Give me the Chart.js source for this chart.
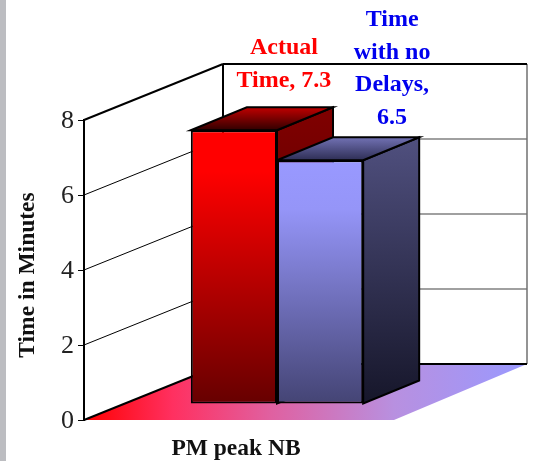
<!DOCTYPE html>
<html>
<head>
<meta charset="utf-8">
<title>Time in Minutes</title>
<style>
  html, body { margin: 0; padding: 0; background: #fff; }
  canvas { display: block; }
</style>
<script src="https://cdn.jsdelivr.net/npm/chart.js@4/dist/chart.umd.min.js"></script>
</head>
<body>
<canvas id="chart" width="534" height="461"></canvas>
<script>
const categories = ["PM peak NB"];
const actualTime = [7.3];
const noDelayTime = [6.5];
const actualLabel = ["Actual", "Time, 7.3"];
const noDelayLabel = ["Time", "with no", "Delays,", "6.5"];
const yAxisTitle = "Time in Minutes";

const SERIF = "'Liberation Serif', 'Times New Roman', serif";

// depth of the room and of the bars, in pixels
const wallDx = 139, wallDy = -56;
const barShiftX = 41, barShiftY = -16;
const depthX = 56, depthY = -23;

function vertical(ctx, y0, y1, stops) {
  const g = ctx.createLinearGradient(0, y0, 0, y1);
  stops.forEach((s) => g.addColorStop(s[0], s[1]));
  return g;
}

function poly(ctx, pts, fill, stroke, lw) {
  ctx.beginPath();
  pts.forEach((p, i) => (i ? ctx.lineTo(p[0], p[1]) : ctx.moveTo(p[0], p[1])));
  ctx.closePath();
  if (fill) {
    ctx.fillStyle = fill;
    ctx.fill();
  }
  if (stroke) {
    ctx.strokeStyle = stroke;
    ctx.lineWidth = lw || 2;
    ctx.stroke();
  }
}

function line(ctx, x0, y0, x1, y1, color, lw) {
  ctx.beginPath();
  ctx.moveTo(x0, y0);
  ctx.lineTo(x1, y1);
  ctx.strokeStyle = color;
  ctx.lineWidth = lw;
  ctx.stroke();
}

function frontFill(stops) {
  return (c) => {
    const area = c.chart.chartArea;
    if (!area) return stops[0][1];
    const top = c.chart.scales.y.getPixelForValue(c.raw);
    return vertical(c.chart.ctx, top, area.bottom, stops);
  };
}

// side and top face of one bar, behind the front the library draws
function extrude(ctx, bar, sideStops, topStops) {
  const l = bar.x - bar.width / 2 + barShiftX;
  const r = bar.x + bar.width / 2 + barShiftX;
  const t = bar.y + barShiftY;
  const b = bar.base + barShiftY;
  poly(ctx, [[r, t], [r + depthX, t + depthY], [r + depthX, b + depthY], [r, b]],
    vertical(ctx, t + depthY, b, sideStops), "#000", 2);
  poly(ctx, [[l, t], [l + depthX, t + depthY], [r + depthX, t + depthY], [r, t]],
    vertical(ctx, t + depthY, t, topStops), "#000", 2);
}

const room = {
  id: "room",
  beforeDraw(chart) {
    const ctx = chart.ctx;
    ctx.save();
    ctx.fillStyle = "#fff";
    ctx.fillRect(0, 0, chart.width, chart.height);
    ctx.fillStyle = "#bcbdc1";
    ctx.fillRect(0, 0, 6, chart.height);
    ctx.restore();
  },
  beforeDatasetsDraw(chart) {
    const ctx = chart.ctx;
    const area = chart.chartArea;
    const y = chart.scales.y;
    const backL = area.left + wallDx;
    const backR = area.right + wallDx;
    ctx.save();

    // floor
    const floor = ctx.createLinearGradient(area.left, 0, backR, 0);
    floor.addColorStop(0, "#ff0000");
    floor.addColorStop(0.2, "#ff3060");
    floor.addColorStop(0.42, "#e060a0");
    floor.addColorStop(0.7, "#b890e0");
    floor.addColorStop(1, "#9999ff");
    poly(ctx, [[area.left, area.bottom], [backL, area.bottom + wallDy],
      [backR, area.bottom + wallDy], [area.right + 6, area.bottom]], floor);

    // grid lines on both walls
    y.ticks.forEach((t) => {
      if (t.value === y.min || t.value === y.max) return;
      const py = y.getPixelForValue(t.value);
      line(ctx, area.left, py, backL, py + wallDy, "#000", 1);
      line(ctx, backL, py + wallDy, backR, py + wallDy, "#808080", 1.5);
    });

    // room edges
    line(ctx, backR, area.top + wallDy, backR, area.bottom + wallDy, "#707070", 1.5);
    line(ctx, backL, area.top + wallDy, backL, area.bottom + wallDy, "#000", 2);
    line(ctx, area.left, area.top, backL, area.top + wallDy, "#000", 2);
    line(ctx, backL, area.top + wallDy, backR, area.top + wallDy, "#000", 2);
    line(ctx, area.left, area.bottom, backL, area.bottom + wallDy, "#000", 2);
    line(ctx, backL, area.bottom + wallDy, backR, area.bottom + wallDy, "#000", 2);

    // depth of the bars, red first so blue overlaps it
    extrude(ctx, chart.getDatasetMeta(0).data[0],
      [[0, "#800000"], [1, "#400000"]], [[0, "#c00000"], [1, "#300000"]]);
    extrude(ctx, chart.getDatasetMeta(1).data[0],
      [[0, "#50507f"], [1, "#16162a"]], [[0, "#7272b4"], [1, "#2e2e55"]]);
    ctx.restore();
  },
  beforeDatasetDraw(chart) {
    chart.ctx.save();
    chart.ctx.translate(barShiftX, barShiftY);
  },
  afterDatasetDraw(chart) {
    chart.ctx.restore();
  },
  afterDraw(chart) {
    const ctx = chart.ctx;
    const area = chart.chartArea;
    ctx.save();
    ctx.textAlign = "center";
    ctx.textBaseline = "middle";
    ctx.font = "bold 24px " + SERIF;

    const red = chart.getDatasetMeta(0).data[0];
    ctx.fillStyle = "#ff0000";
    actualLabel.forEach((s, i) => ctx.fillText(s, red.x + 91, red.y - 98 + i * 33));

    const blue = chart.getDatasetMeta(1).data[0];
    ctx.fillStyle = "#0000ee";
    noDelayLabel.forEach((s, i) => ctx.fillText(s, blue.x + 113, blue.y - 156 + i * 32.5));

    // axis title
    ctx.translate(28, (area.top + area.bottom) / 2 + 5);
    ctx.rotate(-Math.PI / 2);
    ctx.font = "bold 23.5px " + SERIF;
    ctx.fillStyle = "#111";
    ctx.fillText(yAxisTitle, 0, 0);
    ctx.restore();
  },
};

new Chart(document.getElementById("chart"), {
  type: "bar",
  data: {
    labels: categories,
    datasets: [
      {
        label: "Actual Time",
        data: actualTime,
        backgroundColor: frontFill([[0, "#ff0000"], [0.15, "#ff0000"], [1, "#660000"]]),
        borderColor: "#000",
        borderWidth: 2,
        borderSkipped: false,
        clip: false,
      },
      {
        label: "Time with no Delays",
        data: noDelayTime,
        backgroundColor: frontFill([[0, "#9999ff"], [0.2, "#9595f8"], [1, "#444474"]]),
        borderColor: "#000",
        borderWidth: 2,
        borderSkipped: false,
        clip: false,
      },
    ],
  },
  options: {
    responsive: false,
    animation: false,
    events: [],
    barPercentage: 1,
    categoryPercentage: 0.567,
    layout: { padding: { left: 0, right: 146, top: 120, bottom: 0 } },
    plugins: {
      legend: { display: false },
      tooltip: { enabled: false },
    },
    scales: {
      x: {
        grid: { display: false, drawTicks: false },
        border: { display: false },
        ticks: {
          color: "#111",
          padding: 15,
          maxRotation: 0,
          font: { family: SERIF, size: 23.5, weight: "bold" },
        },
        afterFit(scale) {
          scale.height = 41;
          scale.paddingLeft = 0;
          scale.paddingRight = 0;
        },
      },
      y: {
        min: 0,
        max: 8,
        grid: { drawOnChartArea: false, tickLength: 6, color: "#000", lineWidth: 1 },
        border: { color: "#000", width: 2 },
        ticks: {
          stepSize: 2,
          color: "#222",
          padding: 4,
          labelOffset: 1.5,
          font: { family: SERIF, size: 26 },
        },
        afterFit(scale) {
          scale.width = 84;
          scale.paddingTop = 0;
          scale.paddingBottom = 0;
        },
      },
    },
  },
  plugins: [room],
});
</script>
</body>
</html>
